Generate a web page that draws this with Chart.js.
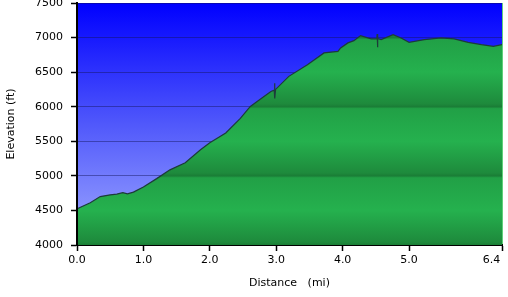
<!DOCTYPE html>
<html>
<head>
<meta charset="utf-8">
<script src="https://cdn.jsdelivr.net/npm/chart.js@4/dist/chart.umd.min.js"></script>
<style>
  html, body { margin: 0; padding: 0; background: #fff; }
  #wrap { width: 508px; height: 297px; }
</style>
</head>
<body>
<div id="wrap"><canvas id="profile"></canvas></div>
<script>
// distance (mi) and elevation (ft)
const distance = [0.00, 0.20, 0.35, 0.50, 0.60, 0.69, 0.76, 0.85, 1.00, 1.20, 1.40, 1.63, 1.86,
    2.00, 2.24, 2.46, 2.61, 2.79, 2.92, 2.97, 2.975, 2.98, 2.99, 3.19, 3.47, 3.72, 3.93, 3.97,
    4.08, 4.17, 4.27, 4.43, 4.515, 4.52, 4.525, 4.53, 4.58, 4.76, 4.88, 5.00, 5.23, 5.48,
    5.68, 5.89, 6.09, 6.27, 6.40];
const elevation = [4522, 4610, 4700, 4725, 4735, 4758, 4739, 4765, 4840, 4960, 5087, 5190, 5377,
    5480, 5620, 5830, 6004, 6130, 6221, 6240, 6340, 6120, 6250, 6439, 6608, 6778, 6801, 6850,
    6923, 6955, 7028, 6981, 6985, 7050, 6860, 6985, 6970, 7043, 6995, 6931, 6970, 6995,
    6981, 6931, 6898, 6873, 6898];

const X_TICKS = [0, 1, 2, 3, 4, 5, 6.4];
const Y_TICKS = [4000, 4500, 5000, 5500, 6000, 6500, 7000, 7500];

const FONT = { family: 'DejaVu Sans', size: 11 };

// blue sky behind the plot
const skyPlugin = {
    id: 'sky',
    beforeDraw(chart) {
        const { ctx, chartArea: a } = chart;
        if (!a) return;
        const g = ctx.createLinearGradient(0, a.top, 0, a.bottom);
        g.addColorStop(0, '#0000ff');
        g.addColorStop(0.5, '#5058fb');
        g.addColorStop(1, '#a0aaff');
        ctx.save();
        ctx.fillStyle = g;
        ctx.fillRect(a.left, a.top, a.right - a.left, a.bottom - a.top);
        ctx.strokeStyle = '#5fd07a';
        ctx.lineWidth = 1;
        ctx.beginPath();
        ctx.moveTo(a.right + 0.5, a.top);
        ctx.lineTo(a.right + 0.5, a.bottom);
        ctx.stroke();
        ctx.restore();
    }
};

// banded green fill
function groundFill(context) {
    const chart = context.chart;
    const a = chart.chartArea;
    const y = chart.scales.y;
    if (!a || !y) return '#22b14c';
    const top = y.getPixelForValue(7500), bot = y.getPixelForValue(4000);
    const h = bot - top;
    const g = chart.ctx.createLinearGradient(0, top, 0, bot);
    const f = v => Math.min(1, Math.max(0, (y.getPixelForValue(v) - top) / h));
    g.addColorStop(0, '#23a84a');
    Y_TICKS.slice().reverse().forEach(v => {
        if (v === 7500) return;
        if (v % 1000 === 0) {
            g.addColorStop(Math.max(0, f(v) - 0.012), '#1e8a3c');
            g.addColorStop(f(v), '#1a7d36');
            g.addColorStop(Math.min(1, f(v) + 0.008), '#21a046');
        } else {
            g.addColorStop(f(v), '#25b14e');
        }
    });
    return g;
}

const points = distance.map((d, i) => ({ x: d, y: elevation[i] }));

new Chart(document.getElementById('profile'), {
    type: 'line',
    data: {
        datasets: [{
            data: points,
            borderColor: '#1d3b3a',
            borderWidth: 1.2,
            backgroundColor: groundFill,
            fill: 'start',
            pointRadius: 0,
            tension: 0,
            clip: { left: -1, top: 0, right: 0, bottom: 0 }
        }]
    },
    options: {
        responsive: true,
        maintainAspectRatio: false,
        animation: false,
        layout: { padding: { top: 3, right: 6, left: 0, bottom: 0 } },
        plugins: { legend: { display: false }, tooltip: { enabled: false } },
        scales: {
            x: {
                type: 'linear',
                min: 0,
                max: 6.4,
                z: 1,
                afterFit(s) { s.height = 52; s.paddingLeft = 0; s.paddingRight = 0; },
                afterBuildTicks(s) { s.ticks = X_TICKS.map(v => ({ value: v })); },
                ticks: {
                    font: FONT,
                    color: '#000',
                    padding: 3,
                    maxRotation: 0,
                    autoSkip: false,
                    callback: v => v === 6.4 ? '6.4      ' : v.toFixed(1)
                },
                grid: { drawOnChartArea: false, tickLength: 6, tickColor: '#000', tickWidth: 1.5 },
                border: { color: '#000', width: 2 },
                title: {
                    display: true,
                    text: 'Distance   (mi)',
                    font: FONT,
                    color: '#000',
                    padding: { top: 0, bottom: 7 }
                }
            },
            y: {
                min: 4000,
                max: 7500,
                afterFit(s) { s.width = 77; s.paddingTop = 0; s.paddingBottom = 0; },
                afterBuildTicks(s) { s.ticks = Y_TICKS.map(v => ({ value: v })); },
                ticks: { font: FONT, color: '#000', padding: 8, callback: v => String(v) },
                grid: { color: 'rgba(20,20,90,0.45)', lineWidth: 1, tickLength: 6, tickColor: '#000', tickWidth: 1.5 },
                border: { color: '#000', width: 2 },
                title: {
                    display: true,
                    text: 'Elevation (ft)',
                    font: FONT,
                    color: '#000',
                    padding: { top: 5, bottom: 0 }
                }
            }
        }
    },
    plugins: [skyPlugin]
});
</script>
</body>
</html>
